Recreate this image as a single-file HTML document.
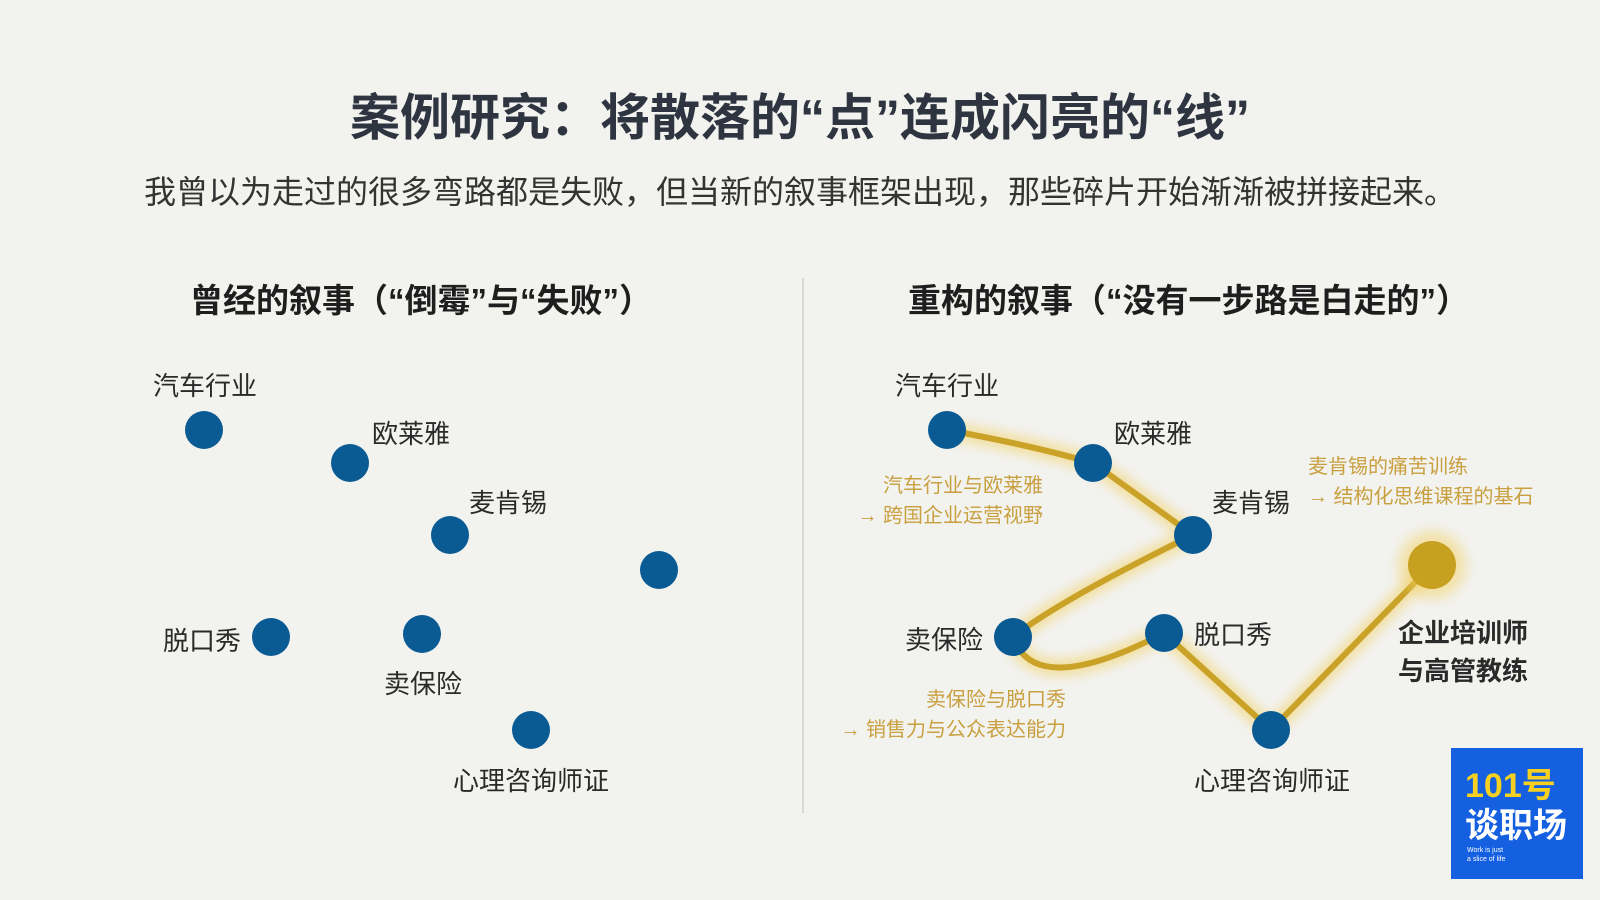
<!DOCTYPE html>
<html><head><meta charset="utf-8"><style>
html,body{margin:0;padding:0}
body{width:1600px;height:900px;background:#f2f2ef;position:relative;overflow:hidden;font-family:"Liberation Sans","Noto Sans CJK SC",sans-serif;color:#2a2a2a}
.t{position:absolute;white-space:nowrap}
</style></head><body>
<div class="t" style="left:0;width:1600px;text-align:center;top:78px;font-size:50px;font-weight:bold;color:#2e3440">案例研究：将散落的“点”连成闪亮的“线”</div>
<div class="t" style="left:0;width:1600px;text-align:center;top:167px;font-size:32px;color:#333">我曾以为走过的很多弯路都是失败，但当新的叙事框架出现，那些碎片开始渐渐被拼接起来。</div>
<div class="t" style="left:190px;top:274px;font-size:33px;font-weight:bold;color:#1e1e1e">曾经的叙事（“倒霉”与“失败”）</div>
<div class="t" style="left:908px;top:274px;font-size:33px;font-weight:bold;color:#1e1e1e">重构的叙事（“没有一步路是白走的”）</div>
<div style="position:absolute;left:802px;top:278px;width:2px;height:535px;background:#d8d8d4"></div>
<svg width="1600" height="900" style="position:absolute;left:0;top:0">
<defs><filter id="g" x="-20%" y="-20%" width="140%" height="140%"><feGaussianBlur stdDeviation="6"/></filter></defs>
<g fill="#0a5a94">
<ellipse cx="204" cy="430" rx="19" ry="19"/><ellipse cx="350" cy="463" rx="19" ry="19"/>
<ellipse cx="450" cy="535" rx="19" ry="19"/><ellipse cx="659" cy="570" rx="19" ry="19"/>
<ellipse cx="271" cy="637" rx="19" ry="19"/><ellipse cx="422" cy="634" rx="19" ry="19"/>
<ellipse cx="531" cy="730" rx="19" ry="19"/>
</g>
<g fill="none" stroke-linecap="round">
<path d="M947 430 Q1030 445 1093 463 L1193 535 Q1060 600 1013 637 Q1035 700 1164 633 L1271 730 L1432 565" stroke="#f2d060" stroke-width="16" opacity="0.6" filter="url(#g)"/>
<path d="M947 430 Q1030 445 1093 463 L1193 535 Q1060 600 1013 637 Q1035 700 1164 633 L1271 730 L1432 565" stroke="#c9a227" stroke-width="6"/>
</g>
<circle cx="1432" cy="565" r="34" fill="#f2d060" opacity="0.5" filter="url(#g)"/>
<circle cx="1432" cy="565" r="24" fill="#c8a020"/>
<g fill="#0a5a94">
<ellipse cx="947" cy="430" rx="19" ry="19"/><ellipse cx="1093" cy="463" rx="19" ry="19"/>
<ellipse cx="1193" cy="535" rx="19" ry="19"/><ellipse cx="1013" cy="637" rx="19" ry="19"/>
<ellipse cx="1164" cy="633" rx="19" ry="19"/><ellipse cx="1271" cy="730" rx="19" ry="19"/>
</g>
</svg>
<div style="font-size:26px">
<div class="t" style="left:153px;top:366px">汽车行业</div>
<div class="t" style="left:372px;top:414px">欧莱雅</div>
<div class="t" style="left:469px;top:483px">麦肯锡</div>
<div class="t" style="left:163px;top:621px">脱口秀</div>
<div class="t" style="left:384px;top:664px">卖保险</div>
<div class="t" style="left:453px;top:761px">心理咨询师证</div>
<div class="t" style="left:895px;top:366px">汽车行业</div>
<div class="t" style="left:1114px;top:414px">欧莱雅</div>
<div class="t" style="left:1212px;top:483px">麦肯锡</div>
<div class="t" style="left:905px;top:620px">卖保险</div>
<div class="t" style="left:1194px;top:615px">脱口秀</div>
<div class="t" style="left:1194px;top:761px">心理咨询师证</div>
<div class="t" style="left:1398px;top:614px;font-weight:bold;line-height:38px">企业培训师<br>与高管教练</div>
</div>
<div style="color:#c9a040;font-size:20px;line-height:30px">
<div class="t" style="left:850px;top:471px;width:193px;text-align:right">汽车行业与欧莱雅<br>→ 跨国企业运营视野</div>
<div class="t" style="left:1308px;top:452px">麦肯锡的痛苦训练<br>→ 结构化思维课程的基石</div>
<div class="t" style="left:830px;top:685px;width:236px;text-align:right">卖保险与脱口秀<br>→ 销售力与公众表达能力</div>
</div>
<div style="position:absolute;left:1451px;top:748px;width:132px;height:131px;background:#1560e0;overflow:hidden">
<div class="t" style="left:14px;top:10px;font-size:34px;font-weight:bold;color:#f5d020">101号</div>
<div class="t" style="left:14px;top:50px;font-size:34px;font-weight:bold;color:#fff">谈职场</div>
<div class="t" style="left:16px;top:98px;font-size:7px;color:#fff;line-height:9px">Work is just<br>a slice of life</div>
</div>
</body></html>
